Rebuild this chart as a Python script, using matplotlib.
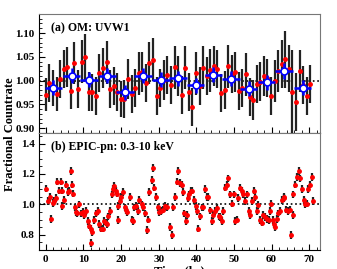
import matplotlib
matplotlib.use('Agg')
import matplotlib.pyplot as plt
from matplotlib.ticker import MultipleLocator, FormatStrFormatter

plt.rcParams['font.family'] = ['Liberation Serif', 'DejaVu Serif']
plt.rcParams['font.weight'] = 'bold'

# (a) OM UVW1 - unbinned points
om_t = [0.0, 0.95, 1.9, 2.85, 3.8, 4.75, 5.7, 6.65, 7.6, 8.55, 9.5, 10.45, 11.4, 12.35, 13.3,
        14.25, 15.2, 16.15, 17.1, 18.05, 19.0, 19.95, 20.9, 21.85, 22.8, 23.75, 24.7, 25.65,
        26.6, 27.55, 28.5, 29.45, 30.4, 31.35, 32.3, 33.25, 34.2, 35.15, 36.1, 37.05, 38.0,
        38.95, 39.9, 40.85, 41.8, 42.75, 43.7, 44.65, 45.6, 46.55, 47.5, 48.45, 49.4, 50.35,
        51.3, 52.25, 53.2, 54.15, 55.1, 56.05, 57.0, 57.95, 58.9, 59.85, 60.8, 61.75, 62.7,
        63.65, 64.6, 65.55, 66.5, 67.45, 68.4, 69.35, 70.3]
om_rate = [0.970, 0.995, 0.985, 0.972, 1.003,
           1.025, 1.028, 0.978, 1.037, 0.982,
           1.040, 1.050, 0.977, 0.975, 0.968,
           1.015, 1.026, 1.038, 0.982, 0.989,
           0.975, 0.962, 0.962, 1.004, 0.972,
           0.985, 1.015, 1.018, 0.995, 1.037,
           1.044, 0.968, 0.985, 1.002, 1.011,
           0.990, 1.028, 1.010, 0.970, 1.027,
           0.975, 0.945, 1.015, 0.988, 1.027,
           1.010, 1.022, 1.030, 1.025, 0.973,
           0.980, 1.030, 1.013, 1.018, 0.979,
           0.985, 1.013, 0.965, 0.960, 0.992,
           0.998, 1.010, 1.005, 0.968, 0.999,
           1.020, 1.035, 1.045, 1.025, 0.975,
           0.955, 1.020, 0.990, 0.967, 0.993]
om_err = [0.035, 0.040, 0.038, 0.036, 0.040, 0.040, 0.042, 0.038, 0.045, 0.040,
          0.045, 0.048, 0.040, 0.038, 0.040, 0.040, 0.042, 0.045, 0.040, 0.040,
          0.040, 0.038, 0.040, 0.042, 0.040, 0.040, 0.045, 0.042, 0.040, 0.045,
          0.045, 0.040, 0.040, 0.042, 0.040, 0.040, 0.045, 0.042, 0.040, 0.045,
          0.040, 0.040, 0.045, 0.040, 0.045, 0.040, 0.045, 0.042, 0.040, 0.040,
          0.040, 0.045, 0.040, 0.042, 0.040, 0.040, 0.045, 0.040, 0.042, 0.040,
          0.040, 0.042, 0.040, 0.040, 0.045, 0.045, 0.050, 0.060, 0.050, 0.090,
          0.060, 0.045, 0.040, 0.040, 0.040]

# (a) binned points
om_bin_t = [2.0, 6.9, 11.5, 16.3, 21.0, 25.8, 30.6, 35.1, 39.8, 44.5, 49.2, 53.9, 58.7, 63.3, 68.3]
om_bin_rate = [0.985, 1.010, 1.002, 1.010, 0.975, 1.010, 1.002, 1.005, 0.990, 1.012,
               1.004, 0.983, 0.996, 1.020, 0.985]
om_bin_terr = 2.3
om_bin_err = 0.016

# (b) EPIC-pn 0.3-10 keV
pn_t = [0.0, 0.6, 1.1, 1.5, 1.9, 2.2, 2.7, 3.1, 3.5, 4.0, 4.2, 4.4, 4.9, 5.3, 5.8, 6.2, 6.7,
        6.9, 7.3, 7.7, 8.0, 8.4, 8.9, 9.3, 9.8, 10.2, 10.6, 11.1, 11.5, 11.9, 12.0, 12.3,
        12.9, 13.3, 13.8, 14.2, 14.6, 15.1, 15.5, 16.0, 16.3, 16.6, 17.0, 17.5, 17.9, 18.2,
        18.6, 18.8, 19.1, 19.3, 19.7, 20.1, 20.6, 21.0, 21.3, 21.7, 22.4, 22.8, 23.1, 23.5,
        24.0, 24.4, 24.8, 25.5, 25.9, 26.4, 26.8, 27.1, 27.5, 28.1, 28.6, 28.8, 29.3, 29.7,
        30.2, 30.6, 31.2, 31.7, 32.1, 33.0, 33.4, 33.9, 34.3, 34.8, 35.2, 35.7, 36.1, 36.4,
        36.7, 37.2, 37.4, 37.9, 38.1, 38.5, 38.9, 39.4, 39.8, 40.1, 40.5, 41.0, 41.4, 41.9,
        42.3, 42.8, 43.2, 43.7, 44.1, 44.5, 45.0, 45.4, 45.9, 46.3, 46.8, 47.2, 47.6, 48.1,
        48.5, 49.0, 49.4, 49.9, 50.3, 50.8, 51.2, 51.6, 52.1, 52.5, 53.0, 53.4, 53.9, 54.3,
        54.7, 55.2, 55.6, 56.1, 56.5, 57.0, 57.4, 57.8, 58.3, 58.7, 59.2, 59.6, 59.9, 60.3,
        60.7, 61.0, 61.4, 61.8, 62.3, 62.7, 63.2, 63.4, 63.9, 64.3, 64.8, 65.1, 65.6, 65.8,
        66.3, 66.7, 67.2, 67.6, 68.1, 68.5, 68.9, 69.4, 69.8, 70.3, 70.7, 71.1]
pn_rate = [1.103, 1.020, 1.050, 0.905, 1.010, 1.020, 1.040, 1.150, 1.090, 1.150, 1.090,
           0.990, 1.030, 1.130, 1.080, 1.090, 1.220, 1.130, 1.070, 0.980, 0.950, 0.940,
           1.000, 0.940, 0.950, 0.930, 0.955, 0.890, 0.860, 0.840, 0.745, 0.815, 0.895,
           0.940, 0.955, 0.870, 0.840, 0.840, 0.890, 0.880, 0.870, 0.920, 0.955, 1.065,
           1.100, 1.120, 1.090, 1.070, 0.895, 0.990, 1.020, 1.050, 1.080, 0.980, 0.960,
           0.950, 1.050, 0.900, 0.890, 0.980, 0.990, 0.955, 1.030, 1.000, 0.980, 0.940,
           0.830, 0.900, 1.080, 1.160, 1.240, 1.110, 1.050, 0.980, 0.950, 0.955, 0.965,
           0.990, 0.980, 0.850, 0.800, 0.980, 1.050, 1.150, 1.220, 1.140, 1.130, 1.080,
           0.940, 0.890, 0.930, 1.040, 1.065, 1.090, 1.090, 1.030, 0.990, 0.955, 0.840,
           0.920, 0.980, 0.980, 1.100, 1.050, 1.050, 0.960, 0.890, 0.930, 0.955, 0.975,
           0.920, 0.915, 0.890, 0.955, 1.110, 1.130, 1.170, 1.065, 1.005, 1.065, 0.890,
           0.900, 1.040, 1.110, 1.090, 1.065, 1.020, 1.065, 0.955, 0.930, 1.020, 1.090,
           1.050, 0.955, 0.995, 0.895, 0.880, 0.930, 0.915, 0.905, 0.895, 0.955, 1.005,
           0.895, 0.870, 0.850, 0.905, 0.940, 0.955, 1.030, 1.050, 1.040, 0.965, 0.955,
           0.965, 0.800, 0.930, 1.065, 1.130, 1.180, 1.220, 1.170, 1.100, 1.030, 1.000,
           1.005, 1.100, 1.130, 1.180, 1.020]
pn_err = 0.025

fig = plt.figure(figsize=(3.37, 2.69), dpi=100)
ax1 = fig.add_axes([0.117, 0.506, 0.833, 0.442])
ax2 = fig.add_axes([0.117, 0.071, 0.833, 0.435], sharex=ax1)

# top panel
ax1.axhline(1.0, color='black', ls=':', lw=1.2, zorder=1)
ax1.errorbar(om_t, om_rate, yerr=om_err, fmt='o', color='red', ms=2.5,
             ecolor='#222222', elinewidth=1.6, capsize=0, zorder=2)
ax1.errorbar(om_bin_t, om_bin_rate, xerr=om_bin_terr, yerr=om_bin_err, fmt='o',
             mfc='white', mec='blue', mew=1.2, ms=5, ecolor='blue', elinewidth=1.8,
             capsize=0, zorder=3)
ax1.set_ylim(0.89, 1.14)
ax1.yaxis.set_major_locator(MultipleLocator(0.05))
ax1.yaxis.set_minor_locator(MultipleLocator(0.01))
ax1.yaxis.set_major_formatter(FormatStrFormatter('%.2f'))
ax1.text(0.04, 0.93, '(a) OM: UVW1', transform=ax1.transAxes, fontsize=8.5,
         fontweight='bold', va='top')
ax1.tick_params(labelbottom=False)

# bottom panel
ax2.axhline(1.0, color='black', ls=':', lw=1.2, zorder=1)
ax2.errorbar(pn_t, pn_rate, yerr=pn_err, fmt='o', color='red', ms=2.5,
             ecolor='#222222', elinewidth=1.6, capsize=0, zorder=2)
ax2.set_ylim(0.70, 1.47)
ax2.yaxis.set_major_locator(MultipleLocator(0.2))
ax2.yaxis.set_minor_locator(MultipleLocator(0.05))
ax2.yaxis.set_major_formatter(FormatStrFormatter('%.1f'))
ax2.text(0.04, 0.93, '(b) EPIC-pn: 0.3-10 keV', transform=ax2.transAxes, fontsize=8.5,
         fontweight='bold', va='top')
ax2.set_xlim(-1.7, 72.9)
ax2.xaxis.set_major_locator(MultipleLocator(10))
ax2.xaxis.set_minor_locator(MultipleLocator(2))
ax2.set_xlabel('Time (ks)', fontsize=9, fontweight='bold', labelpad=1)

for ax in (ax1, ax2):
    ax.tick_params(which='both', direction='in', labelsize=8)
    ax.tick_params(which='major', length=4, width=0.8)
    ax.tick_params(which='minor', length=2, width=0.6)
    for lab in ax.get_xticklabels() + ax.get_yticklabels():
        lab.set_fontweight('bold')
    for side in ('top', 'right'):
        ax.spines[side].set_color('#777777')
    for side in ('left', 'bottom'):
        ax.spines[side].set_color('black')

fig.text(0.03, 0.50, 'Fractional Countrate', rotation=90, fontsize=9,
         fontweight='bold', va='center', ha='center')

fig.savefig('out.png', dpi=100)
